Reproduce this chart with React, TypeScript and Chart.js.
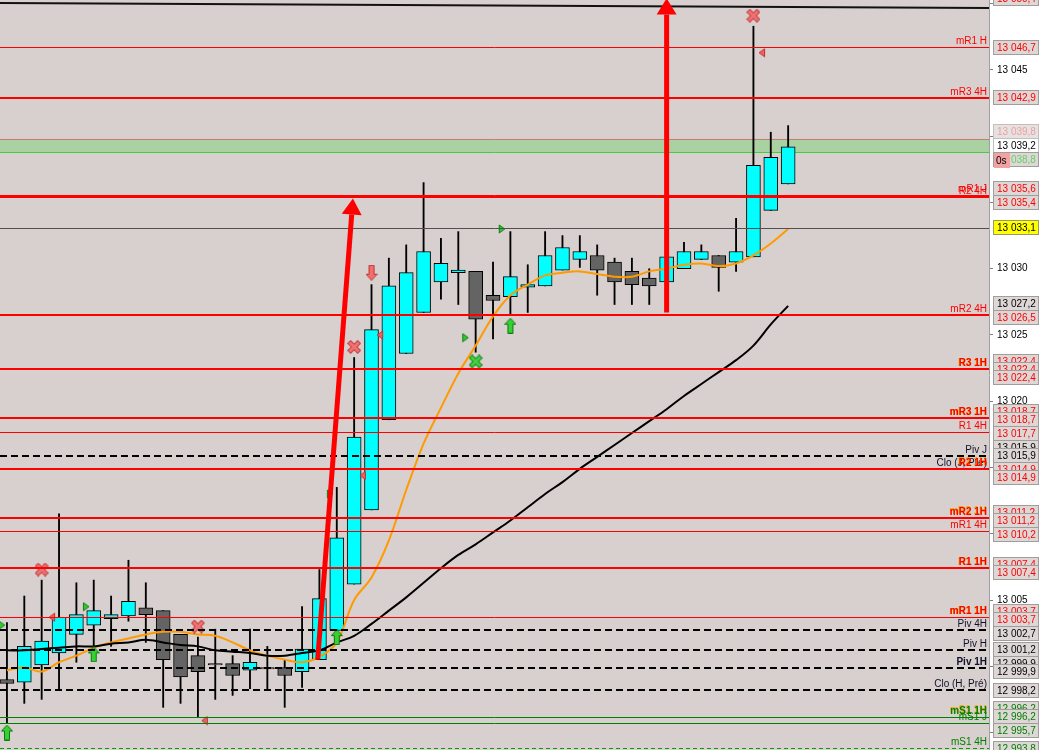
import { useEffect, useRef } from 'react';
import { Chart, registerables } from 'chart.js';

Chart.register(...registerables);

// candles, one per bar index
const opens = [
  12999.0, 12998.8, 13000.1, 13001.0, 13002.4, 13003.1, 13003.6, 13003.8, 13004.4, 13004.2,
  13002.4, 13000.8, 13000.2, 13000.2, 12999.7, 12999.9, 12999.9, 12999.6, 13000.5, 13002.7,
  13006.2, 13011.8, 13018.6, 13023.6, 13026.7, 13029.0, 13029.7, 13029.8, 13028.0, 13027.9,
  13028.6, 13028.7, 13029.9, 13030.7, 13031.0, 13030.5, 13029.8, 13029.3, 13029.0, 13030.0,
  13030.7, 13031.0, 13030.5, 13030.9, 13034.4, 13036.4,
];
const highs = [
  13003.3, 13005.3, 13006.5, 13011.5, 13006.3, 13006.5, 13005.3, 13008.0, 13006.3, 13004.2,
  13002.4, 13002.2, 13002.8, 13000.8, 13002.8, 13001.5, 13000.5, 13004.5, 13007.3, 13013.5,
  13023.3, 13028.8, 13030.8, 13031.8, 13036.5, 13032.3, 13032.8, 13029.8, 13030.5, 13032.8,
  13030.3, 13032.8, 13032.5, 13032.5, 13031.8, 13030.8, 13030.8, 13030.0, 13030.9, 13032.0,
  13031.8, 13031.0, 13033.8, 13048.3, 13040.3, 13040.8,
];
const lows = [
  12995.7, 12997.2, 12997.5, 12998.2, 13000.3, 13001.0, 13001.5, 13003.4, 13001.8, 12996.9,
  12997.2, 12996.2, 12997.5, 12997.8, 12998.3, 12998.3, 12996.9, 12998.4, 13000.5, 13002.7,
  13006.2, 13011.8, 13018.6, 13023.6, 13026.7, 13027.7, 13027.3, 13023.7, 13024.7, 13026.5,
  13026.7, 13028.7, 13029.9, 13030.1, 13028.0, 13027.3, 13027.3, 13027.3, 13029.0, 13030.0,
  13030.7, 13028.3, 13029.8, 13030.9, 13034.4, 13036.4,
];
const closes = [
  12998.7, 13001.5, 13001.9, 13003.7, 13003.9, 13004.2, 13003.9, 13004.9, 13003.9, 13000.5,
  12999.2, 12999.6, 13000.1, 12999.3, 13000.3, 12999.8, 12999.3, 13001.3, 13005.1, 13009.7,
  13017.3, 13025.4, 13028.7, 13029.7, 13031.3, 13030.4, 13029.9, 13026.2, 13027.6, 13029.4,
  13028.8, 13031.0, 13031.6, 13031.3, 13029.9, 13029.0, 13028.8, 13028.7, 13030.9, 13031.3,
  13031.3, 13030.1, 13031.3, 13037.8, 13038.4, 13039.2,
];

// moving averages
const fastMa = [
  12999.7, 12999.9, 12999.6, 13000.3, 13000.8, 13001.4, 13001.8, 13002.1, 13002.4, 13002.6,
  13002.6, 13002.4, 13002.3, 13001.8, 13001.2, 13000.8, 13000.5, 13000.3, 13000.7, 13001.8,
  13005.0, 13006.7, 13009.5, 13013.3, 13016.8, 13019.5, 13022.1, 13024.2, 13026.4, 13028.0,
  13028.8, 13029.5, 13029.7, 13029.8, 13029.6, 13029.4, 13029.4, 13029.8, 13030.0, 13030.3,
  13030.4, 13030.2, 13030.4, 13031.0, 13031.9, 13033.0,
];
const slowMa = [
  13001.2, 13001.2, 13001.3, 13001.4, 13001.5, 13001.5, 13001.7, 13001.8, 13002.0, 13001.8,
  13001.6, 13001.5, 13001.2, 13001.1, 13001.0, 13000.8, 13000.8, 13001.0, 13001.2, 13001.8,
  13002.3, 13003.2, 13004.2, 13005.2, 13006.3, 13007.4, 13008.4, 13009.2, 13010.1, 13011.0,
  13012.0, 13013.0, 13013.9, 13014.9, 13015.8, 13016.7, 13017.6, 13018.5, 13019.4, 13020.4,
  13021.3, 13022.2, 13023.1, 13024.2, 13025.8, 13027.2,
];

// horizontal levels
const levelNames = [
  'mR1 H', 'mR3 4H', 'mR1 J', 'R2 4H', '', 'mR2 4H', 'R3 1H', 'mR3 1H', 'R1 4H', 'Piv J',
  'Clo (J, Pré)', 'R2 1H', 'mR2 1H', 'mR1 4H', 'R1 1H', 'mR1 1H', 'Piv 4H', 'Piv H', 'Piv 1H',
  'Clo (H, Pré)', 'mS1 1H', 'mS1 J', 'mS1 4H',
];
const levelValues = [
  13046.7, 13042.9, 13035.6, 13035.4, 13033.1, 13026.5, 13022.4, 13018.7, 13017.7, 13015.9,
  13014.9, 13014.9, 13011.2, 13010.2, 13007.4, 13003.7, 13002.7, 13001.2, 12999.9,
  12998.2, 12996.2, 12995.7, 12993.8,
];
const levelKinds = [
  'thin', 'thick', 'thin', 'thick', 'grey', 'thick', 'thick', 'thick', 'thin', 'pivot',
  'pivot', 'thick', 'thick', 'thin', 'thick', 'thin', 'pivot', 'pivot', 'pivot',
  'pivot', 'support', 'support', 'supportDash',
];

// price tags on the right axis
const tagValues = [
  13050.4, 13046.7, 13042.9, 13039.8, 13039.2, 13038.8, 13035.6, 13035.4, 13033.1, 13027.2,
  13026.5, 13022.4, 13022.4, 13022.4, 13018.7, 13018.7, 13017.7, 13015.9, 13015.9, 13014.9,
  13014.9, 13011.2, 13011.2, 13010.2, 13007.4, 13007.4, 13003.7, 13003.7, 13002.7, 13001.2,
  12999.9, 12999.9, 12998.2, 12996.2, 12996.2, 12995.7, 12993.8,
];
const tagKinds = [
  'red', 'red', 'red', 'ask', 'last', 'bid', 'red', 'red', 'ma', 'black',
  'red', 'red', 'red', 'red', 'red', 'red', 'red', 'black', 'black', 'red',
  'red', 'red', 'red', 'red', 'red', 'red', 'red', 'red', 'black', 'black',
  'black', 'black', 'black', 'green', 'green', 'green', 'green',
];

const bandHigh = 13039.8;
const bandLow = 13038.8;
const trendLine = [[-0.4, 13050.05], [56.57, 13049.68]];
const arrows = [
  [17.9, 13000.5, 19.93, 13035.3],
  [38.0, 13026.7, 38.0, 13050.4],
];
const redCrosses = [[2, 13007.3], [11, 13003.0], [20, 13024.1], [43, 13049.1]];
const greenCrosses = [[27, 13023.0]];
const upArrows = [[0, 12995.0], [5, 13000.9], [19, 13002.2], [29, 13025.7]];
const downArrows = [[21, 13029.7]];
const rightTriangles = [[-0.3, 13003.1], [4.55, 13004.5], [18.6, 13013.0], [26.4, 13024.8], [28.5, 13033.0]];
const leftTriangles = [[2.6, 13003.7], [11.4, 12995.9], [20.5, 13014.4], [21.5, 13025.0], [43.5, 13046.3]];

const Y_MIN = 12993.68;
const Y_MAX = 13050.28;
const X_MIN = -0.4;
const X_MAX = 56.57;

const FONT = '"Liberation Sans", Arial, sans-serif';

function fmt(v: number, decimals: boolean) {
  const k = Math.floor(v / 1000);
  const rest = v - k * 1000;
  if (!decimals) return `${k} ${String(Math.round(rest)).padStart(3, '0')}`;
  const s = rest.toFixed(1).padStart(5, '0').replace('.', ',');
  return `${k} ${s}`;
}

function makeMarker(w: number, h: number, draw: (ctx: CanvasRenderingContext2D) => void) {
  const c = document.createElement('canvas');
  c.width = w;
  c.height = h;
  const ctx = c.getContext('2d');
  if (ctx) draw(ctx);
  return c;
}

function poly(ctx: CanvasRenderingContext2D, pts: number[][], fill: string, stroke: string) {
  ctx.beginPath();
  pts.forEach(([x, y], i) => (i ? ctx.lineTo(x, y) : ctx.moveTo(x, y)));
  ctx.closePath();
  ctx.fillStyle = fill;
  ctx.fill();
  ctx.strokeStyle = stroke;
  ctx.lineWidth = 1;
  ctx.stroke();
}

function cross(fill: string, edge: string) {
  return makeMarker(14, 14, (ctx) => {
    ctx.lineCap = 'square';
    const paths = () => {
      ctx.beginPath();
      ctx.moveTo(3.5, 3.5);
      ctx.lineTo(10.5, 10.5);
      ctx.moveTo(10.5, 3.5);
      ctx.lineTo(3.5, 10.5);
    };
    paths();
    ctx.strokeStyle = edge;
    ctx.lineWidth = 5;
    ctx.stroke();
    paths();
    ctx.strokeStyle = fill;
    ctx.lineWidth = 3;
    ctx.stroke();
  });
}

const lineStyle: Record<string, { color: string; width: number; dash: number[] }> = {
  thin: { color: '#ff0000', width: 1, dash: [] },
  thick: { color: '#ff0000', width: 2, dash: [] },
  grey: { color: '#505050', width: 1, dash: [] },
  pivot: { color: '#000000', width: 2, dash: [7, 4] },
  support: { color: '#008000', width: 1, dash: [] },
  supportDash: { color: '#00a000', width: 1, dash: [4, 3] },
};
const labelColor: Record<string, string> = {
  thin: '#ff0000', thick: '#ff0000', grey: '#000', pivot: '#10102a', support: '#008000', supportDash: '#008000',
};
const tagStyle: Record<string, { fill: string; text: string; border: string }> = {
  red: { fill: '#ddd7d6', text: '#ff0000', border: '#a29c9c' },
  black: { fill: '#ddd7d6', text: '#000000', border: '#a29c9c' },
  green: { fill: '#ddd7d6', text: '#008000', border: '#a29c9c' },
  ask: { fill: '#e6e2e2', text: '#eea0a0', border: '#c8bcbc' },
  last: { fill: '#ffffff', text: '#000000', border: '#c0c0c0' },
  bid: { fill: '#ddd7d6', text: '#66d066', border: '#a29c9c' },
  ma: { fill: '#ffff00', text: '#000000', border: '#9a9a60' },
};

export default function App() {
  const canvasRef = useRef<HTMLCanvasElement>(null);
  const chartRef = useRef<Chart | null>(null);

  useEffect(() => {
    if (!canvasRef.current) return;
    const ctx = canvasRef.current.getContext('2d');
    if (!ctx) return;
    if (chartRef.current) chartRef.current.destroy();

    const redX = cross('#f07272', '#c83c3c');
    const greenX = cross('#44d044', '#138a13');
    const upImg = makeMarker(12, 16, (c) =>
      poly(c, [[6, 0.5], [11.5, 6.5], [8.5, 6.5], [8.5, 15.5], [3.5, 15.5], [3.5, 6.5], [0.5, 6.5]], '#34d034', '#0c780c'));
    const downImg = makeMarker(12, 16, (c) =>
      poly(c, [[6, 15.5], [11.5, 9.5], [8.5, 9.5], [8.5, 0.5], [3.5, 0.5], [3.5, 9.5], [0.5, 9.5]], '#f07070', '#c03030'));
    const rightImg = makeMarker(8, 10, (c) => poly(c, [[1.5, 1], [7, 5], [1.5, 9]], '#30c830', '#108010'));
    const leftImg = makeMarker(8, 10, (c) => poly(c, [[6.5, 1], [1, 5], [6.5, 9]], '#f06060', '#c03030'));

    const idx = closes.map((_, i) => i);
    const pts = (arr: number[][]) => arr.map(([x, y]) => ({ x, y }));
    const marker = (arr: number[][], img: HTMLCanvasElement) => ({
      type: 'line' as const,
      data: pts(arr),
      showLine: false,
      pointStyle: img,
      pointRadius: 7,
      order: 1,
    });

    const overlay = {
      id: 'overlay',
      beforeDraw(chart: Chart) {
        const { ctx: c, chartArea: a } = chart;
        c.save();
        c.fillStyle = '#d8d0ce';
        c.fillRect(a.left, a.top, a.right - a.left, a.bottom - a.top);
        c.restore();
      },
      beforeDatasetsDraw(chart: Chart) {
        const { ctx: c, chartArea: a } = chart;
        const y = chart.scales.y;
        const y1 = y.getPixelForValue(bandHigh);
        const y2 = y.getPixelForValue(bandLow);
        c.save();
        c.fillStyle = '#a9d1a1';
        c.fillRect(a.left, y1, a.right - a.left, y2 - y1);
        c.lineWidth = 1;
        c.strokeStyle = '#c97a76';
        c.beginPath();
        c.moveTo(a.left, Math.round(y1) + 0.5);
        c.lineTo(a.right, Math.round(y1) + 0.5);
        c.stroke();
        c.strokeStyle = '#44cc44';
        c.beginPath();
        c.moveTo(a.left, Math.round(y2) + 0.5);
        c.lineTo(a.right, Math.round(y2) + 0.5);
        c.stroke();
        c.restore();
      },
      afterDatasetsDraw(chart: Chart) {
        const { ctx: c, chartArea: a } = chart;
        const x = chart.scales.x;
        const y = chart.scales.y;
        c.save();
        c.beginPath();
        c.rect(a.left, a.top, a.right - a.left, a.bottom - a.top);
        c.clip();

        // level lines
        levelValues.forEach((v, i) => {
          const st = lineStyle[levelKinds[i]];
          const py = y.getPixelForValue(v);
          const yy = st.width % 2 ? Math.round(py) + 0.5 : Math.round(py);
          c.strokeStyle = st.color;
          c.lineWidth = st.width;
          c.setLineDash(st.dash);
          c.beginPath();
          c.moveTo(a.left, yy);
          c.lineTo(a.right, yy);
          c.stroke();
        });
        c.setLineDash([]);

        // level names
        c.textAlign = 'right';
        c.textBaseline = 'alphabetic';
        levelValues.forEach((v, i) => {
          const name = levelNames[i];
          if (!name) return;
          const py = y.getPixelForValue(v) - 3;
          const bold = name.endsWith('1H');
          c.font = `${bold ? 'bold ' : ''}10px ${FONT}`;
          if (bold && levelKinds[i] !== 'pivot') {
            c.fillStyle = '#e8a800';
            c.fillText(name, a.right - 2.6, py - 0.6);
          }
          c.fillStyle = labelColor[levelKinds[i]];
          c.fillText(name, a.right - 2, py);
        });

        // trend line
        c.strokeStyle = '#111111';
        c.lineWidth = 2;
        c.beginPath();
        c.moveTo(x.getPixelForValue(trendLine[0][0]), y.getPixelForValue(trendLine[0][1]));
        c.lineTo(x.getPixelForValue(trendLine[1][0]), y.getPixelForValue(trendLine[1][1]));
        c.stroke();

        // arrows
        arrows.forEach(([fx, fy, tx, ty]) => {
          const x1 = x.getPixelForValue(fx);
          const y1 = y.getPixelForValue(fy);
          const x2 = x.getPixelForValue(tx);
          const y2 = y.getPixelForValue(ty);
          const ang = Math.atan2(y2 - y1, x2 - x1);
          const bx = x2 - 16 * Math.cos(ang);
          const by = y2 - 16 * Math.sin(ang);
          c.strokeStyle = '#ff0000';
          c.lineWidth = 5;
          c.beginPath();
          c.moveTo(x1, y1);
          c.lineTo(bx, by);
          c.stroke();
          c.fillStyle = '#ff0000';
          c.beginPath();
          c.moveTo(x2, y2);
          c.lineTo(bx + 10 * Math.sin(ang), by - 10 * Math.cos(ang));
          c.lineTo(bx - 10 * Math.sin(ang), by + 10 * Math.cos(ang));
          c.closePath();
          c.fill();
        });
        c.restore();
      },
      afterDraw(chart: Chart) {
        const { ctx: c, chartArea: a } = chart;
        const y = chart.scales.y;
        const ideal = tagValues.map((v) => y.getPixelForValue(v));
        const gapTo = (i: number) => (tagValues[i] === tagValues[i - 1] ? 8 : 14);

        // spread overlapping tags around the mean of their ideal positions
        type Group = { first: number; offs: number[]; pos: number };
        const groups: Group[] = [];
        ideal.forEach((py, i) => {
          groups.push({ first: i, offs: [0], pos: py });
          while (groups.length > 1) {
            const b = groups[groups.length - 1];
            const g = groups[groups.length - 2];
            const gap = gapTo(b.first);
            const gBottom = g.pos + g.offs[g.offs.length - 1];
            if (b.pos - gBottom >= gap) break;
            const shift = g.offs[g.offs.length - 1] + gap;
            const offs = g.offs.concat(b.offs.map((o) => o + shift));
            const pos = offs.reduce((s, o, k) => s + ideal[g.first + k] - o, 0) / offs.length;
            groups.splice(groups.length - 2, 2, { first: g.first, offs, pos });
          }
        });
        const centers: number[] = [];
        groups.forEach((g) => g.offs.forEach((o, k) => (centers[g.first + k] = g.pos + o)));

        const bx = a.right + 4;
        const bw = 46;
        const bh = 15;
        c.save();
        c.font = `10px ${FONT}`;
        c.textAlign = 'left';
        c.textBaseline = 'middle';
        centers.forEach((cy, i) => {
          const st = tagStyle[tagKinds[i]];
          const top = Math.round(cy - bh / 2);
          c.fillStyle = st.fill;
          c.fillRect(bx, top, bw, bh);
          c.strokeStyle = st.border;
          c.lineWidth = 1;
          c.strokeRect(bx + 0.5, top + 0.5, bw - 1, bh - 1);
          c.fillStyle = st.text;
          c.fillText(fmt(tagValues[i], true), bx + 4, top + bh / 2 + 0.5);
        });

        // countdown box under the last price
        const li = tagKinds.indexOf('last');
        const ct = Math.round(centers[li] + bh / 2);
        c.fillStyle = '#f2a2a2';
        c.fillRect(bx + 1, ct, 16, 15);
        c.fillStyle = '#000';
        c.fillText('0s', bx + 3, ct + 8);
        c.restore();
      },
    };

    chartRef.current = new Chart(ctx, {
      type: 'bar',
      data: {
        datasets: [
          {
            type: 'bar',
            data: idx.map((i) => ({ x: i, y: [lows[i], highs[i]] })) as any,
            backgroundColor: '#000000',
            barThickness: 1.2,
            grouped: false,
            order: 6,
          },
          {
            type: 'bar',
            data: idx.map((i) => ({ x: i, y: [opens[i], closes[i]] })) as any,
            backgroundColor: idx.map((i) => (closes[i] >= opens[i] ? '#00ffff' : '#646464')),
            borderColor: '#000000',
            borderWidth: 1,
            borderSkipped: false,
            barThickness: 14,
            grouped: false,
            order: 5,
          },
          {
            type: 'line',
            data: idx.map((i) => ({ x: i, y: fastMa[i] })),
            borderColor: '#ff9a00',
            borderWidth: 2,
            pointRadius: 0,
            tension: 0.35,
            order: 3,
          },
          {
            type: 'line',
            data: idx.map((i) => ({ x: i, y: slowMa[i] })),
            borderColor: '#000000',
            borderWidth: 2,
            pointRadius: 0,
            tension: 0.35,
            order: 2,
          },
          marker(redCrosses, redX),
          marker(greenCrosses, greenX),
          marker(upArrows, upImg),
          marker(downArrows, downImg),
          marker(rightTriangles, rightImg),
          marker(leftTriangles, leftImg),
        ] as any,
      },
      options: {
        animation: false,
        responsive: false,
        events: [],
        layout: { padding: 0, autoPadding: false },
        plugins: { legend: { display: false }, tooltip: { enabled: false } },
        scales: {
          x: { type: 'linear', min: X_MIN, max: X_MAX, display: false, offset: false },
          y: {
            position: 'right',
            min: Y_MIN,
            max: Y_MAX,
            afterFit: (s: any) => {
              s.width = 53;
              s.paddingTop = 0;
              s.paddingBottom = 0;
            },
            ticks: {
              stepSize: 5,
              includeBounds: false,
              autoSkip: false,
              color: '#000000',
              padding: 4,
              font: { family: FONT, size: 10 },
              callback: (v: any) => fmt(Number(v), false),
            },
            grid: { drawOnChartArea: false, drawTicks: true, tickLength: 4, color: '#808080' },
            border: { display: true, color: '#a0a0a0' },
          },
        },
      },
      plugins: [overlay],
    });

    return () => {
      if (chartRef.current) {
        chartRef.current.destroy();
        chartRef.current = null;
      }
    };
  }, []);

  return (
    <div style={{ position: 'fixed', left: 0, top: 0, width: 1042, height: 750, background: '#ffffff' }}>
      <canvas ref={canvasRef} width={1042} height={750} />
    </div>
  );
}
